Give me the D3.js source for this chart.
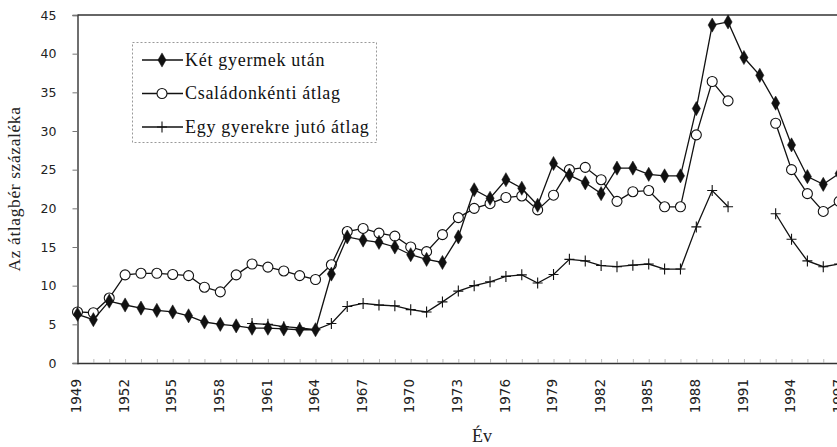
<!DOCTYPE html>
<html lang="hu">
<head>
    <meta charset="utf-8">
    <title>Az átlagbér százaléka</title>
    <script type="text/javascript" src="https://d3js.org/d3.v7.min.js"></script>
    <style type="text/css">
        body { margin: 0; background: #fff; }
        svg { display: block; }
    </style>
</head>
<body>
<div class="chart"></div>

<script type="text/javascript">

    // Data
    var years = d3.range(1949, 1998);

    var ketGyermek = [6.3, 5.6, 8.0, 7.5, 7.1, 6.8, 6.6, 6.1, 5.3, 5.0,
        4.8, 4.5, 4.5, 4.4, 4.3, 4.3, 11.5, 16.3, 15.9, 15.6,
        15.0, 14.0, 13.4, 13.0, 16.3, 22.4, 21.3, 23.7, 22.6, 20.4,
        25.8, 24.3, 23.3, 21.9, 25.2, 25.2, 24.4, 24.2, 24.2, 32.9,
        43.7, 44.1, 39.5, 37.2, 33.6, 28.2, 24.1, 23.1, 24.5];

    var csaladonkenti = [6.6, 6.5, 8.4, 11.4, 11.6, 11.6, 11.45, 11.3, 9.8, 9.2,
        11.4, 12.8, 12.4, 11.9, 11.3, 10.8, 12.7, 17.0, 17.4, 16.8,
        16.4, 15.0, 14.4, 16.6, 18.8, 20.0, 20.6, 21.4, 21.6, 19.8,
        21.7, 25.0, 25.3, 23.7, 20.9, 22.15, 22.3, 20.2, 20.2, 29.5,
        36.4, 33.9, null, null, 31.0, 25.0, 21.9, 19.6, 20.9];

    var egyGyerek = [null, null, null, null, null, null, null, null, null, null,
        null, 5.1, 5.0, 4.7, 4.55, 4.3, 5.1, 7.3, 7.7, 7.5,
        7.4, 6.9, 6.6, 7.9, 9.3, 10.0, 10.5, 11.2, 11.4, 10.35,
        11.45, 13.4, 13.2, 12.6, 12.45, 12.65, 12.8, 12.15, 12.15, 17.6,
        22.3, 20.2, null, null, 19.3, 16.0, 13.2, 12.45, 12.8];

    var seriesNames = ["Két gyermek után", "Családonkénti átlag", "Egy gyerekre jutó átlag"];
    var yTicks = [0, 5, 10, 15, 20, 25, 30, 35, 40, 45];
    var xTickLabels = d3.range(1949, 1998, 3);

    var width = 837, height = 447;

    var svg = d3.select(".chart")
        .append("svg")
        .attr("width", width)
        .attr("height", height);

    var x = d3.scaleLinear().domain([1949, 1998]).range([77.5, 855]);
    var y = d3.scaleLinear().domain([0, 45]).range([363, 15]);

    // frame: top line of the plot area
    svg.append("line")
        .attr("x1", x(1949)).attr("x2", width)
        .attr("y1", y(45)).attr("y2", y(45))
        .attr("stroke", "#333").attr("stroke-width", 1.4);

    // y axis
    var yAxis = svg.append("g")
        .attr("transform", "translate(" + x(1949) + ",0)")
        .call(d3.axisLeft(y).tickValues(yTicks).tickSize(5).tickPadding(16));
    yAxis.select(".domain").attr("stroke", "#333").attr("stroke-width", 1.4);
    yAxis.selectAll(".tick line").attr("stroke", "#777");
    yAxis.selectAll("text")
        .attr("font-family", "DejaVu Sans")
        .attr("font-size", "12.5px")
        .attr("fill", "#222");

    // x axis: small ticks every year, labels every 3 years
    var xAxis = svg.append("g")
        .attr("transform", "translate(0," + y(0) + ")")
        .call(d3.axisBottom(x).tickValues(years).tickSize(-4).tickFormat(""));
    xAxis.select(".domain").attr("stroke", "#333").attr("stroke-width", 1.4);
    xAxis.selectAll(".tick line").attr("stroke", "#aaa").attr("stroke-width", 0.8);

    svg.append("g")
        .selectAll("text")
        .data(xTickLabels)
        .enter()
        .append("text")
        .attr("transform", function (d) {
            return "translate(" + (x(d) - 1) + "," + (y(0) + 16) + ") rotate(-90)";
        })
        .attr("dy", "0.35em")
        .style("text-anchor", "end")
        .attr("font-family", "DejaVu Sans")
        .attr("font-size", "13.5px")
        .attr("fill", "#222")
        .text(function (d) { return d; });

    // axis titles
    svg.append("text")
        .attr("transform", "translate(20," + ((y(0) + y(45)) / 2) + ") rotate(-90)")
        .style("text-anchor", "middle")
        .attr("font-family", "Liberation Serif")
        .attr("font-size", "17.5px")
        .attr("letter-spacing", "0.6px")
        .attr("fill", "#222")
        .text("Az átlagbér százaléka");

    svg.append("text")
        .attr("x", 482)
        .attr("y", 442)
        .style("text-anchor", "middle")
        .attr("font-family", "Liberation Serif")
        .attr("font-size", "18px")
        .attr("fill", "#222")
        .text("Év");

    // lines and markers
    var line = d3.line()
        .defined(function (d) { return d.v !== null; })
        .x(function (d) { return x(d.year); })
        .y(function (d) { return y(d.v); });

    function toPoints(values) {
        return years.map(function (yr, i) { return {year: yr, v: values[i]}; });
    }

    var diamond = d3.symbol().type(d3.symbolDiamond).size(58);

    function drawMarker(g, type) {
        if (type === 0) {
            g.append("path").attr("d", diamond).attr("fill", "#111").attr("stroke", "#111").attr("stroke-width", 0.5);
        } else if (type === 1) {
            g.append("circle").attr("r", 5).attr("fill", "#fff").attr("stroke", "#111").attr("stroke-width", 1.1);
        } else {
            g.append("path").attr("d", "M-5,0H5M0,-5.5V5.5").attr("stroke", "#111").attr("stroke-width", 1.1);
        }
    }

    var allSeries = [ketGyermek, csaladonkenti, egyGyerek];

    // draw in reverse so the diamonds sit on top
    [2, 1, 0].forEach(function (k) {
        var pts = toPoints(allSeries[k]);
        svg.append("path")
            .datum(pts)
            .attr("fill", "none")
            .attr("stroke", "#111")
            .attr("stroke-width", 1.3)
            .attr("d", line);

        svg.append("g")
            .selectAll("g")
            .data(pts.filter(function (d) { return d.v !== null; }))
            .enter()
            .append("g")
            .attr("transform", function (d) {
                return "translate(" + x(d.year) + "," + y(d.v) + ")";
            })
            .each(function () { drawMarker(d3.select(this), k); });
    });

    // legend
    var legend = svg.append("g");
    legend.append("rect")
        .attr("x", 132.5).attr("y", 42.5)
        .attr("width", 244).attr("height", 100)
        .attr("fill", "#fff")
        .attr("stroke", "#999")
        .attr("stroke-width", 1)
        .attr("stroke-dasharray", "2,2");

    var rowY = [60, 93.5, 127];
    seriesNames.forEach(function (name, k) {
        var row = legend.append("g").attr("transform", "translate(0," + rowY[k] + ")");
        row.append("line")
            .attr("x1", 142).attr("x2", 183)
            .attr("stroke", "#111").attr("stroke-width", 1.3);
        drawMarker(row.append("g").attr("transform", "translate(162,0)"), k);
        row.append("text")
            .attr("x", 185)
            .attr("dy", "0.32em")
            .attr("font-family", "Liberation Serif")
            .attr("font-size", "18px")
            .attr("letter-spacing", "0.7px")
            .attr("fill", "#111")
            .text(name);
    });

</script>
</body>
</html>
